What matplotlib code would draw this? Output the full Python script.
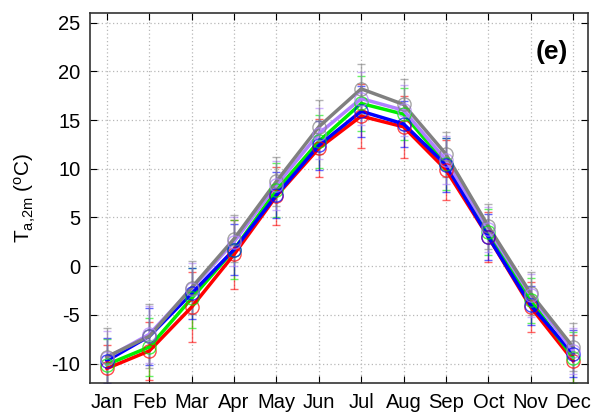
import numpy as np
import matplotlib.pyplot as plt

plt.rcParams['font.family'] = ['Liberation Sans', 'DejaVu Sans']
plt.rcParams['mathtext.fontset'] = 'custom'
plt.rcParams['mathtext.rm'] = 'Liberation Sans'
plt.rcParams['mathtext.it'] = 'Liberation Sans:italic'
plt.rcParams['axes.unicode_minus'] = False

# months and monthly mean 2 m air temperature for five runs
months = ['Jan', 'Feb', 'Mar', 'Apr', 'May', 'Jun', 'Jul', 'Aug', 'Sep', 'Oct', 'Nov', 'Dec']
red = [-10.5, -8.7, -4.2, 1.2, 7.2, 12.1, 15.4, 14.3, 9.9, 3.0, -4.2, -9.7]
green = [-10.1, -8.3, -3.3, 1.7, 7.8, 12.8, 16.7, 15.6, 10.5, 3.5, -3.5, -9.4]
blue = [-9.7, -7.2, -2.8, 1.7, 7.3, 12.4, 15.9, 14.6, 10.4, 3.0, -4.0, -9.0]
purple = [-9.4, -7.0, -2.3, 2.5, 8.3, 13.6, 17.2, 16.0, 10.9, 3.8, -3.0, -8.7]
gray = [-9.3, -7.2, -2.2, 2.8, 8.7, 14.3, 18.2, 16.6, 11.5, 4.1, -2.8, -8.3]

red_sd = [2.4, 3.0, 3.6, 3.5, 3.0, 3.0, 3.3, 3.2, 3.1, 2.6, 2.6, 2.6]
green_sd = [2.6, 3.0, 3.1, 3.0, 2.8, 2.7, 2.8, 2.7, 2.7, 2.4, 2.3, 2.6]
blue_sd = [2.3, 2.9, 2.6, 2.6, 2.4, 2.5, 2.6, 2.4, 2.8, 2.4, 2.0, 2.4]
purple_sd = [2.7, 2.9, 2.6, 2.5, 2.5, 2.6, 2.7, 2.6, 2.5, 2.3, 2.2, 2.4]
gray_sd = [3.0, 3.3, 2.7, 2.4, 2.5, 2.8, 2.6, 2.6, 2.3, 2.3, 2.2, 2.5]

x = np.arange(1, 13)

fig = plt.figure(figsize=(5.92, 4.15), dpi=100)
ax = fig.add_axes([0.152, 0.077, 0.841, 0.892])

series = [
    (red, red_sd, '#ff0000'),
    (green, green_sd, '#00ee00'),
    (blue, blue_sd, '#0000ff'),
    (purple, purple_sd, '#b080ff'),
    (gray, gray_sd, '#808080'),
]

for vals, sd, col in series:
    ax.errorbar(x, vals, yerr=sd, fmt='none', ecolor=col, alpha=0.6,
                elinewidth=1.0, capsize=3, capthick=1.0, zorder=2)
    ax.plot(x, vals, '-', color=col, lw=2.5, zorder=3)
    ax.plot(x, vals, 'o', ms=9.5, mfc='none', mec=col, mew=1.0, alpha=0.7, zorder=4)

ax.set_xlim(0.6, 12.35)
ax.set_ylim(-12, 26)
ax.set_xticks(x)
ax.set_xticklabels(months)
ax.set_yticks(np.arange(-10, 26, 5))
ax.tick_params(direction='in', top=True, right=True, length=5, labelsize=14.5, pad=7)
ax.grid(True, linestyle=(0, (1, 2)), color='#b8b8b8', linewidth=0.9)
for s in ax.spines.values():
    s.set_color('#333333')
    s.set_linewidth(1.2)

ax.set_ylabel(r'T$_{\rm a{,}2m}$ ($^{\rm o}$C)', fontsize=15)
ax.yaxis.set_label_coords(-0.105, 0.5)
ax.text(0.96, 0.895, '(e)', transform=ax.transAxes, fontsize=19,
        fontweight='bold', ha='right', va='center')

fig.savefig('out.png', dpi=100)
